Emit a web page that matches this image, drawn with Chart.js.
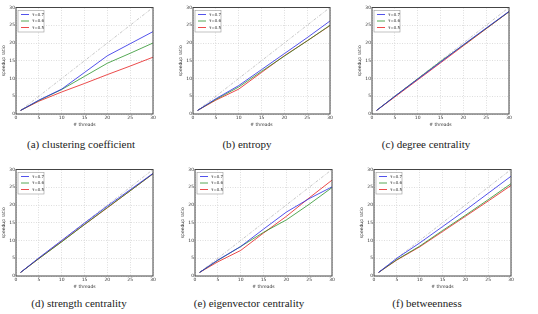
<!DOCTYPE html>
<html>
<head>
<meta charset="utf-8">
<script src="https://cdn.jsdelivr.net/npm/chart.js@4.4.0/dist/chart.umd.min.js"></script>
<style>
  body { margin: 0; background: #fff; }
  #wrap { position: relative; width: 538px; height: 314px; overflow: hidden; }
  .panel { position: absolute; }
  .cap { position: absolute; width: 180px; text-align: center; font-family: "Liberation Serif", "DejaVu Serif", serif; font-size: 11px; color: #222; }
</style>
</head>
<body>
<div id="wrap">
  <canvas class="panel" id="pa" width="170" height="128" style="left:0px;top:0px"></canvas>
  <canvas class="panel" id="pb" width="170" height="128" style="left:177px;top:0px"></canvas>
  <canvas class="panel" id="pc" width="170" height="128" style="left:356px;top:0px"></canvas>
  <canvas class="panel" id="pd" width="170" height="128" style="left:0px;top:162px"></canvas>
  <canvas class="panel" id="pe" width="170" height="128" style="left:179px;top:162px"></canvas>
  <canvas class="panel" id="pf" width="170" height="128" style="left:358px;top:162px"></canvas>
  <div class="cap" style="left:-9px;top:138px">(a) clustering coefficient</div>
  <div class="cap" style="left:157px;top:138px">(b) entropy</div>
  <div class="cap" style="left:336px;top:138px">(c) degree centrality</div>
  <div class="cap" style="left:-11px;top:297px">(d) strength centrality</div>
  <div class="cap" style="left:159px;top:297px">(e) eigenvector centrality</div>
  <div class="cap" style="left:337px;top:297px">(f) betweenness</div>
</div>
<script>
const threads = [1, 5, 10, 15, 20, 25, 30];
const ideal = [1, 30];
const seriesNames = ['τ=0.7', 'τ=0.6', 'τ=0.5'];
const seriesColors = ['rgba(40,40,230,0.8)', 'rgba(30,140,30,0.75)', 'rgba(230,30,30,0.8)'];

// speedup per panel: [τ=0.7, τ=0.6, τ=0.5]
const clustering = [
  [1, 3.9, 7.0, 11.7, 16.4, 19.8, 23.2],
  [1, 3.8, 6.9, 10.6, 14.3, 17.1, 20.0],
  [1, 3.6, 6.2, 8.6, 11.1, 13.5, 16.0]
];
const entropy = [
  [1, 4.3, 8.0, 12.5, 17.0, 21.5, 26.2],
  [1, 4.1, 7.6, 12.0, 16.3, 20.6, 25.0],
  [1, 3.9, 7.0, 11.7, 16.4, 20.6, 24.9]
];
const degree = [
  [1, 5.0, 9.8, 14.6, 19.5, 24.2, 28.9],
  [1, 5.0, 9.9, 14.8, 19.4, 24.1, 28.8],
  [1, 4.8, 9.6, 14.4, 19.2, 24.0, 28.8]
];
const strength = [
  [1, 5.1, 10.0, 14.9, 19.7, 24.3, 28.9],
  [1, 4.9, 9.6, 14.5, 19.3, 24.0, 28.8],
  [1, 4.9, 9.7, 14.5, 19.2, 24.0, 28.8]
];
const eigenvector = [
  [1, 4.5, 8.3, 13.2, 18.0, 21.8, 25.1],
  [1, 4.4, 8.3, 12.3, 15.8, 20.2, 24.9],
  [1, 4.0, 7.2, 12.1, 16.8, 22.0, 27.0]
];
const betweenness = [
  [1, 5.0, 9.3, 13.9, 18.5, 23.3, 28.1],
  [1, 4.6, 8.4, 12.8, 17.1, 21.5, 26.0],
  [1, 4.5, 8.2, 12.5, 16.8, 21.1, 25.5]
];

// box round the plot and a small framed legend in the top left corner
const frame = {
  id: 'frame',
  afterDraw(chart) {
    const c = chart.ctx, a = chart.chartArea;
    c.save();
    c.setLineDash([]);
    c.strokeStyle = '#444';
    c.lineWidth = 1;
    c.strokeRect(a.left, a.top, a.right - a.left, a.bottom - a.top);
    const items = chart.data.datasets.filter(d => d.label !== 'ideal');
    const x0 = a.left + 2, y0 = a.top + 3, rowH = 6.5;
    c.fillStyle = '#fff';
    c.fillRect(x0, y0, 26, rowH * items.length + 2);
    c.strokeStyle = '#999';
    c.lineWidth = 0.6;
    c.strokeRect(x0, y0, 26, rowH * items.length + 2);
    c.font = '4px "DejaVu Sans"';
    c.textBaseline = 'middle';
    items.forEach((d, i) => {
      const y = y0 + 4 + i * rowH;
      c.strokeStyle = d.borderColor;
      c.lineWidth = 1;
      c.beginPath();
      c.moveTo(x0 + 3, y);
      c.lineTo(x0 + 11, y);
      c.stroke();
      c.fillStyle = '#333';
      c.fillText(d.label, x0 + 14, y);
    });
    c.restore();
  }
};

function makeChart(id, values) {
  const sets = values.map((v, i) => ({
    label: seriesNames[i],
    data: threads.map((t, j) => ({ x: t, y: v[j] })),
    borderColor: seriesColors[i],
    borderWidth: 1,
    pointRadius: 0,
    tension: 0
  }));
  sets.push({
    label: 'ideal',
    data: ideal.map(t => ({ x: t, y: t })),
    borderColor: '#b0b0b0',
    borderWidth: 0.7,
    borderDash: [3, 1.5, 1, 1.5],
    pointRadius: 0
  });
  const tickFont = { family: 'DejaVu Sans', size: 4.5 };
  return new Chart(document.getElementById(id), {
    type: 'line',
    data: { datasets: sets },
    options: {
      responsive: false,
      animation: false,
      devicePixelRatio: 1,
      layout: { padding: { top: 7.5, right: 17, left: 0, bottom: 0 } },
      plugins: {
        tooltip: { enabled: false },
        legend: { display: false }
      },
      scales: {
        x: {
          type: 'linear',
          min: 0,
          max: 30,
          ticks: { stepSize: 5, font: tickFont, color: '#333', padding: 1, maxRotation: 0 },
          grid: { color: '#c8c8c8', lineWidth: 0.6, drawTicks: false },
          border: { display: false, dash: [1, 1.5] },
          title: { display: true, text: '# threads', font: tickFont, color: '#333', padding: 0 },
          afterFit: s => { s.height = 14; }
        },
        y: {
          min: 0,
          max: 30,
          ticks: { stepSize: 5, font: tickFont, color: '#333', padding: 1 },
          grid: { color: '#c8c8c8', lineWidth: 0.6, drawTicks: false },
          border: { display: false, dash: [1, 1.5] },
          title: { display: true, text: 'speedup ratio', font: tickFont, color: '#333', padding: 1 },
          afterFit: s => { s.width = 16; }
        }
      }
    },
    plugins: [frame]
  });
}

makeChart('pa', clustering);
makeChart('pb', entropy);
makeChart('pc', degree);
makeChart('pd', strength);
makeChart('pe', eigenvector);
makeChart('pf', betweenness);
</script>
</body>
</html>
